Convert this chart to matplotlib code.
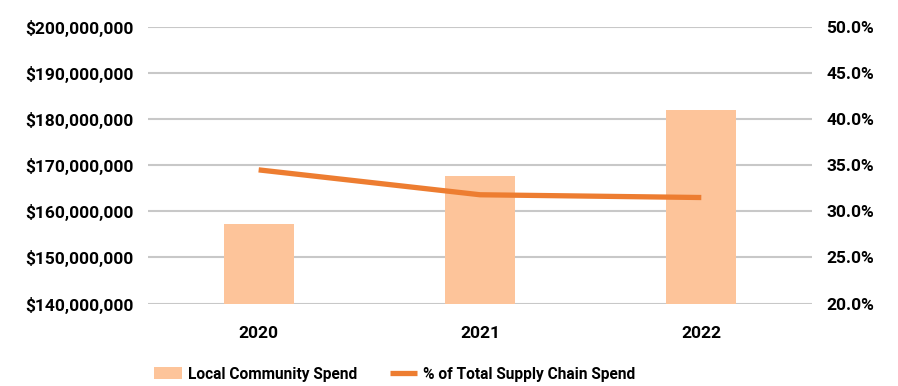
import matplotlib
matplotlib.use("Agg")
import matplotlib.pyplot as plt
import numpy as np
from matplotlib.ticker import FuncFormatter

years = ["2020", "2021", "2022"]
local_spend = [157_300_000, 167_700_000, 182_000_000]
pct_total = [34.5, 31.8, 31.5]

spend_ticks = [140_000_000, 150_000_000, 160_000_000, 170_000_000,
               180_000_000, 190_000_000, 200_000_000]
pct_ticks = [20.0, 25.0, 30.0, 35.0, 40.0, 45.0, 50.0]

bar_color = "#FDC49A"
line_color = "#ED7D31"
grid_color = "#C8C8C8"

plt.rcParams["font.family"] = ["Roboto", "DejaVu Sans"]
plt.rcParams["font.weight"] = "bold"

fig = plt.figure(figsize=(8.98, 3.86), dpi=100)
ax = fig.add_axes([0.1648, 0.2137, 0.7394, 0.7163])
x = np.arange(len(years))

ax.bar(x, local_spend, width=0.315, color=bar_color, zorder=2,
       label="Local Community Spend")
ax.set_ylim(spend_ticks[0], spend_ticks[-1])
ax.set_yticks(spend_ticks)
ax.yaxis.set_major_formatter(FuncFormatter(lambda v, p: f"${v:,.0f}"))
ax.set_xlim(-0.5, 2.5)
ax.set_xticks(x)
ax.set_xticklabels(years)
ax.grid(axis="y", color=grid_color, linewidth=1.5, zorder=0)
ax.set_axisbelow(True)
for s in ax.spines.values():
    s.set_visible(False)
ax.tick_params(axis="both", length=0, labelsize=12.5, colors="black")
ax.tick_params(axis="y", pad=10.5)
ax.tick_params(axis="x", pad=16)

ax2 = ax.twinx()
ax2.plot(x, pct_total, color=line_color, linewidth=3.8,
         solid_capstyle="butt", zorder=3, label="% of Total Supply Chain Spend")
ax2.set_ylim(pct_ticks[0], pct_ticks[-1])
ax2.set_yticks(pct_ticks)
ax2.yaxis.set_major_formatter(FuncFormatter(lambda v, p: f"{v:.1f}%"))
for s in ax2.spines.values():
    s.set_visible(False)
ax2.tick_params(axis="y", length=0, labelsize=12.5, pad=10.5, colors="black")

h1, l1 = ax.get_legend_handles_labels()
h2, l2 = ax2.get_legend_handles_labels()
fig.legend(h1 + h2, l1 + l2, loc="center left", bbox_to_anchor=(0.172, 0.031),
           ncol=2, frameon=False, fontsize=11.2, handlelength=1.75,
           handleheight=0.8, columnspacing=2.1, handletextpad=0.4,
           borderpad=0, borderaxespad=0)

fig.savefig("out.png", dpi=100, facecolor="white")
